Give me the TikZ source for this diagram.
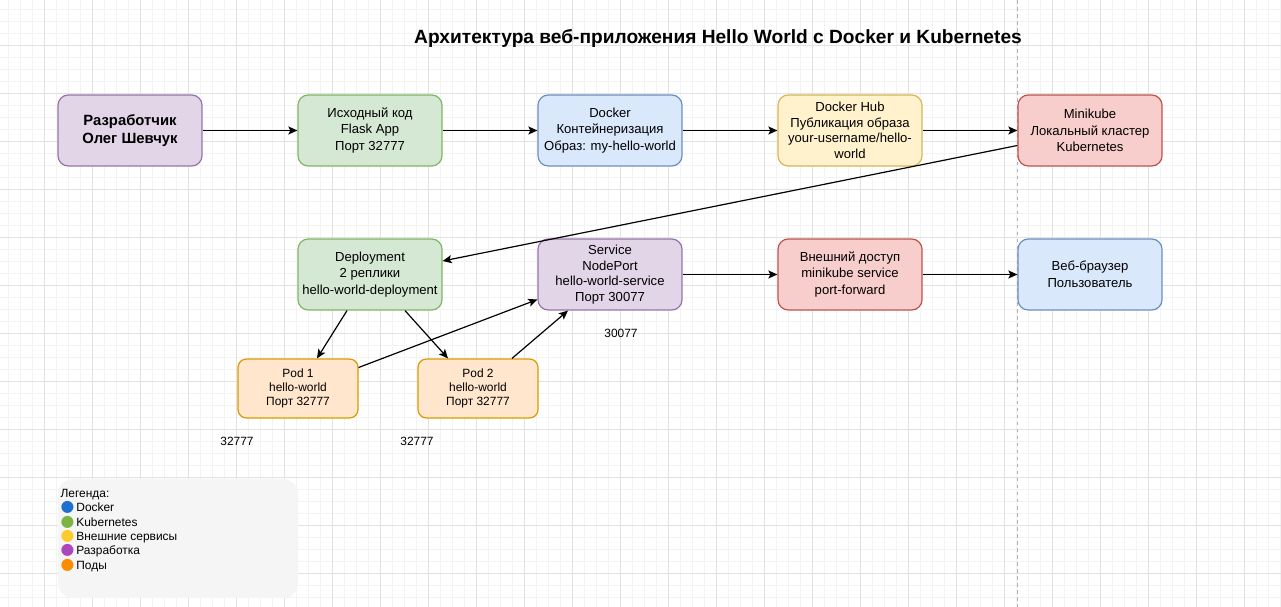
\documentclass[tikz,border=0pt]{standalone}
\usepackage{fontspec}
\setmainfont{Liberation Sans}
\newfontfamily\dotfont{DejaVu Sans}
\usetikzlibrary{arrows.meta,positioning,calc}

\definecolor{purpleFill}{HTML}{E1D5E7}\definecolor{purpleLine}{HTML}{9673A6}
\definecolor{greenFill}{HTML}{D5E8D4}\definecolor{greenLine}{HTML}{82B366}
\definecolor{blueFill}{HTML}{DAE8FC}\definecolor{blueLine}{HTML}{6C8EBF}
\definecolor{yellowFill}{HTML}{FFF2CC}\definecolor{yellowLine}{HTML}{D6B656}
\definecolor{redFill}{HTML}{F8CECC}\definecolor{redLine}{HTML}{B85450}
\definecolor{orangeFill}{HTML}{FFE6CC}\definecolor{orangeLine}{HTML}{D79B00}
\definecolor{legendFill}{HTML}{F5F5F5}
\definecolor{gridMinor}{HTML}{F3F3F3}\definecolor{gridMajor}{HTML}{E2E2E2}
\definecolor{emBlue}{HTML}{1E6FD0}\definecolor{emGreen}{HTML}{7CB342}
\definecolor{emYellow}{HTML}{FDCB2E}\definecolor{emPurple}{HTML}{AB47BC}
\definecolor{emOrange}{HTML}{FB8C00}

\begin{document}
\begin{tikzpicture}[x=0.02cm,y=-0.02cm,line width=0.68pt,>={Stealth[length=5.2pt,width=4.6pt,inset=1.2pt]},
  main node/.style={rectangle,rounded corners=5.8pt,draw,align=center,inner sep=0pt,minimum width=2.88cm,minimum height=1.42cm,font=\fontsize{7.45}{9.4}\selectfont},
  four lines/.style={font=\fontsize{7.45}{8.9}\selectfont},
  pod node/.style={rectangle,rounded corners=4.8pt,draw=orangeLine,fill=orangeFill,align=center,inner sep=0pt,minimum width=2.4cm,minimum height=1.18cm,font=\fontsize{6.8}{8}\selectfont},
  port label/.style={font=\fontsize{6.8}{8}\selectfont,inner sep=0pt}]
  \useasboundingbox (0,0) rectangle (1281,607);

  % grid
  \foreach \g in {8.5,20.5,...,1281} \draw[gridMinor,line width=0.5pt] (\g,0) -- (\g,607);
  \foreach \g in {9,21,...,607} \draw[gridMinor,line width=0.5pt] (0,\g) -- (1281,\g);
  \foreach \g in {44.5,92.5,...,1281} \draw[gridMajor,line width=0.5pt] (\g,0) -- (\g,607);
  \foreach \g in {45,93,...,607} \draw[gridMajor,line width=0.5pt] (0,\g) -- (1281,\g);
  \draw[black!30,line width=0.5pt,dash pattern=on 2pt off 2pt] (1017.5,0) -- (1017.5,607);

  \node[font=\bfseries\fontsize{10.9}{13}\selectfont] (title) at (718,38) {Архитектура веб-приложения Hello World с Docker и Kubernetes};

  \node[main node,draw=purpleLine,fill=purpleFill,font=\bfseries\fontsize{8.45}{9.8}\selectfont] (dev) at (130,130.5) {Разработчик\\Олег Шевчук};
  \node[main node,draw=greenLine,fill=greenFill] (src) at (370,130.5) {Исходный код\\Flask App\\Порт 32777};
  \node[main node,draw=blueLine,fill=blueFill] (docker) at (610,130.5) {Docker\\Контейнеризация\\Образ: my-hello-world};
  \node[main node,four lines,draw=yellowLine,fill=yellowFill] (hub) at (850,130.5) {Docker Hub\\Публикация образа\\your-username/hello-\\world};
  \node[main node,draw=redLine,fill=redFill] (mini) at (1090,130.5) {Minikube\\Локальный кластер\\Kubernetes};

  \node[main node,draw=greenLine,fill=greenFill] (depl) at (370,274.5) {Deployment\\2 реплики\\hello-world-deployment};
  \node[main node,four lines,draw=purpleLine,fill=purpleFill] (svc) at (610,274.5) {Service\\NodePort\\hello-world-service\\Порт 30077};
  \node[main node,draw=redLine,fill=redFill] (ext) at (850,274.5) {Внешний доступ\\minikube service\\port-forward};
  \node[main node,draw=blueLine,fill=blueFill] (browser) at (1090,274.5) {Веб-браузер\\Пользователь};

  \node[pod node] (pod1) at (298,388.5) {Pod 1\\hello-world\\Порт 32777};
  \node[pod node] (pod2) at (478,388.5) {Pod 2\\hello-world\\Порт 32777};

  \node[port label] (port svc) at (621,333) {30077};
  \node[port label] (port pod1) at (237,441) {32777};
  \node[port label] (port pod2) at (417,441) {32777};

  % legend
  \fill[legendFill,rounded corners=8.5pt] (58,479) rectangle (298,598);
  \node[anchor=north west,align=left,inner sep=0pt,font=\fontsize{6.8}{8.2}\selectfont] (legend) at (60,488.5) {Легенда:\\
    {\dotfont\fontsize{9}{8.2}\selectfont\color{emBlue}●}\,Docker\\
    {\dotfont\fontsize{9}{8.2}\selectfont\color{emGreen}●}\,Kubernetes\\
    {\dotfont\fontsize{9}{8.2}\selectfont\color{emYellow}●}\,Внешние сервисы\\
    {\dotfont\fontsize{9}{8.2}\selectfont\color{emPurple}●}\,Разработка\\
    {\dotfont\fontsize{9}{8.2}\selectfont\color{emOrange}●}\,Поды};

  \path [->] (dev) edge (src);
  \path [->] (src) edge (docker);
  \path [->] (docker) edge (hub);
  \path [->] (hub) edge (mini);
  \path [->] ([yshift=-0.3cm]mini.west) edge ([yshift=0.27cm]depl.east);
  \path [->] ([xshift=-0.46cm]depl.south) edge ([xshift=0.38cm]pod1.north);
  \path [->] ([xshift=0.7cm]depl.south) edge ([xshift=-0.6cm]pod2.north);
  \path [->] ([yshift=0.42cm]pod1.east) edge ([yshift=-0.5cm]svc.west);
  \path [->] ([xshift=0.68cm]pod2.north) edge ([xshift=-0.84cm]svc.south);
  \path [->] (svc) edge (ext);
  \path [->] (ext) edge (browser);
\end{tikzpicture}
\end{document}
